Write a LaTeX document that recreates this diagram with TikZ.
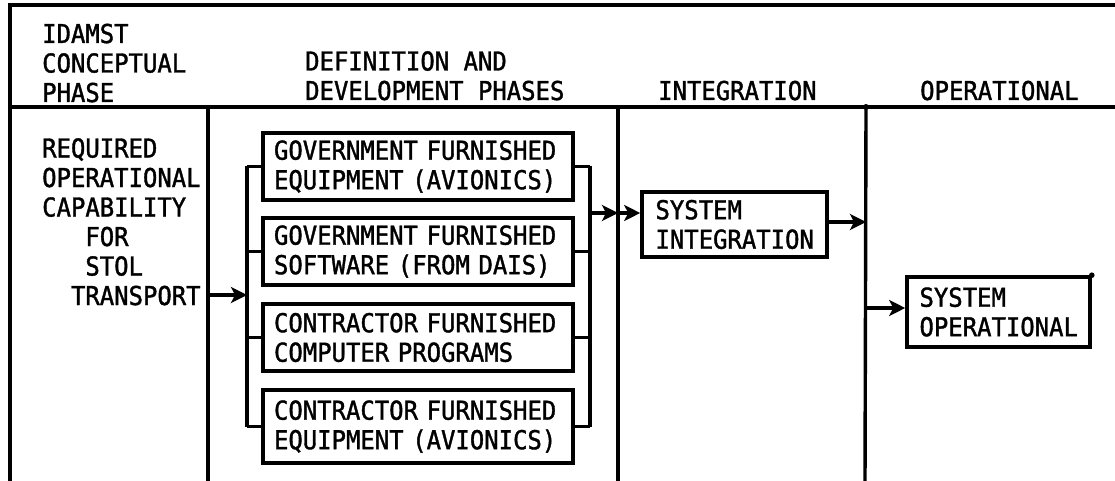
\documentclass[tikz,border=0pt]{standalone}
\usepackage{fontspec}
\setmainfont{DejaVu Sans Mono}[FakeStretch=0.92,FakeBold=1.4]
\usetikzlibrary{arrows.meta,positioning}
\tikzset{
  rule/.style={line width=3.4pt},
  phasebox/.style={draw, line width=3.6pt, inner sep=0pt, minimum width=310pt, minimum height=67pt, text width=288pt, align=left},
  sysbox/.style={draw, line width=3.6pt, inner sep=0pt, align=left, text width=158pt},
  flow/.style={line width=3.6pt, -{Stealth[length=16pt,width=16pt,inset=4pt]}},
  hdr/.style={anchor=base west, inner sep=0pt, align=left},
}
\begin{document}
\begin{tikzpicture}[x=1pt,y=-1pt, font=\fontsize{26}{29.5}\selectfont]
    \useasboundingbox (0,0) rectangle (1115,481);

    % cadre et colonnes
    \draw[rule] (1115,5) -- (10,5) -- (10,481);
    \draw[rule] (10,107) -- (1115,107);
    \draw[rule] (208,107) -- (208,481);
    \draw[rule] (618,107) -- (618,481);
    \draw[rule] (866,107) -- (865,481);
    \fill (866,107) circle (3pt);

    % titres des phases (ancre = ligne de base de la derniere ligne)
    \node[hdr] (hconc) at (42,102) {IDAMST\\CONCEPTUAL\\PHASE};
    \node[hdr] (hdef) at (305,100) {DEFINITION AND\\DEVELOPMENT PHASES};
    \node[hdr] (hint) at (658,100) {INTEGRATION};
    \node[hdr] (hop) at (920,100) {OPERATIONAL};

    % besoin
    \node[hdr] (req) at (42,305) {REQUIRED\\OPERATIONAL\\CAPABILITY\\\phantom{XXX}FOR\\\phantom{XXX}STOL\\\phantom{XX}TRANSPORT};

    % elements fournis
    \node[phasebox] (gfe) at (418,166.5) {GOVERNMENT FURNISHED\\EQUIPMENT (AVIONICS)};
    \node[phasebox] (gfs) at (418,251.5) {GOVERNMENT FURNISHED\\SOFTWARE (FROM DAIS)};
    \node[phasebox] (cfp) at (418,337.5) {CONTRACTOR FURNISHED\\COMPUTER PROGRAMS};
    \node[phasebox, minimum height=73pt] (cfe) at (418,426.5) {CONTRACTOR FURNISHED\\EQUIPMENT (AVIONICS)};

    % integration et exploitation
    \node[sysbox, minimum width=185pt, minimum height=65pt] (si) at (734.5,224.5) {SYSTEM\\INTEGRATION};
    \node[sysbox, minimum width=183pt, minimum height=70pt] (so) at (998.5,312) {SYSTEM\\OPERATIONAL};
    \fill (so.north east) circle (2.8pt);

    % barres de repartition
    \coordinate (busin) at (247,295);
    \coordinate (busout) at (590,213);
    \foreach \b in {gfe,gfs,cfp,cfe} {
        \draw[rule] (\b.west) -- (\b.west -| busin);
        \draw[rule] (\b.east) -- (\b.east -| busout);
    }
    \draw[rule] (gfe.west -| busin) -- (cfe.west -| busin);
    \draw[rule] (gfe.east -| busout) -- (cfe.east -| busout);

    % fleches
    \coordinate (col1) at (208,295);
    \coordinate (col2) at (618,213);
    \coordinate (col3) at (866,222);
    \coordinate (col3b) at (866,308);
    \draw[flow] (col1) -- (busin);
    \draw[flow] (busout) -- (col2);
    \draw[flow] (col2) -- (si.west |- col2);
    \draw[flow] (si.east |- col3) -- (col3);
    \draw[flow] (col3b) -- (so.west |- col3b);
\end{tikzpicture}
\end{document}
